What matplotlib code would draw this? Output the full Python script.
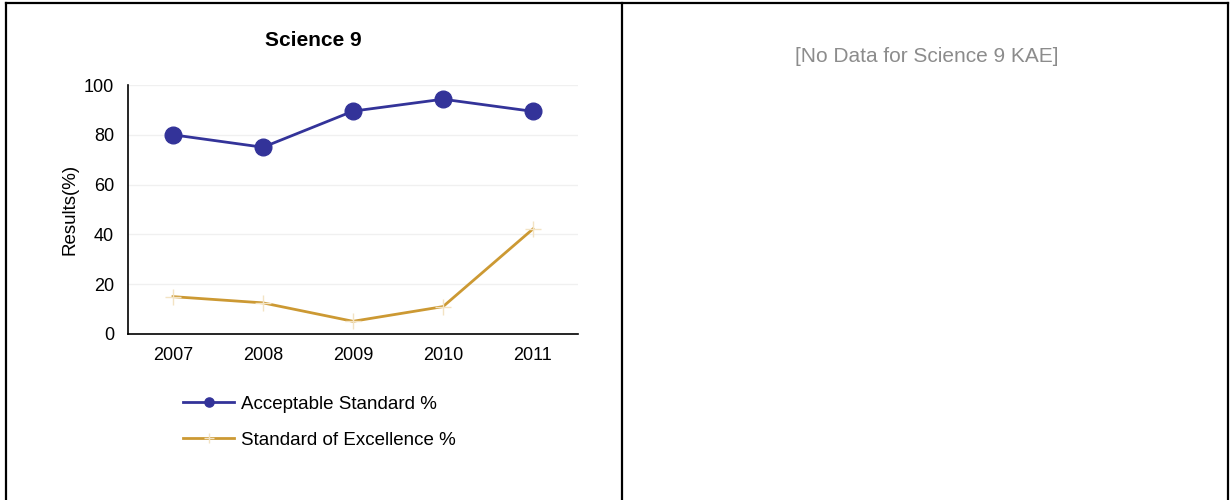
import matplotlib.pyplot as plt
from matplotlib.lines import Line2D

plt.rcParams['font.family'] = ['Liberation Sans', 'DejaVu Sans']

# Data
years = ['2007', '2008', '2009', '2010', '2011']
acceptable = [80.0, 75.0, 89.5, 94.3, 89.4]
excellence = [15.0, 12.5, 5.1, 11.0, 42.2]

W, H = 1230, 500
fig = plt.figure(figsize=(W / 100, H / 100), dpi=100)

# Axes placed in pixel coordinates
left, right, top, bottom = 128, 578, 85, 334
ax = fig.add_axes([left / W, 1 - bottom / H, (right - left) / W, (bottom - top) / H])

x = list(range(len(years)))
blue = '#333399'
gold = '#CC9933'
ax.plot(x, acceptable, color=blue, lw=2, marker='o', ms=12, label='Acceptable Standard %')
ax.plot(x, excellence, color=gold, lw=2, marker='+', ms=12, mec='#f3e3c3', mew=1,
        label='Standard of Excellence %')

ax.set_xlim(-0.5, len(years) - 0.5)
ax.set_ylim(0, 100)
ax.set_yticks([0, 20, 40, 60, 80, 100])
ax.set_xticks(x)
ax.set_xticklabels(years)
ax.tick_params(length=0, labelsize=13, pad=9)
ax.tick_params(axis='y', pad=10)
for s in ['top', 'right']:
    ax.spines[s].set_visible(False)
for s in ['left', 'bottom']:
    ax.spines[s].set_linewidth(1.2)
ax.grid(axis='y', color='#f0f0f0', lw=1)
ax.set_axisbelow(True)
ax.set_ylabel('Results(%)', fontsize=13.5, labelpad=4)

fig.text(313 / W, 1 - 41 / H, 'Science 9', fontsize=15, fontweight='bold',
         ha='center', va='center')

leg = ax.legend(loc='upper left', bbox_to_anchor=(166 / W, 1 - 379 / H),
                bbox_transform=fig.transFigure, frameon=False, fontsize=13.5,
                handlelength=2.75, labelspacing=1.0, handletextpad=0.33,
                markerscale=0.55)

fig.text(927 / W, 1 - 57 / H, '[No Data for Science 9 KAE]', fontsize=15,
         color='#8c8c8c', ha='center', va='center')

# Table frame
for xs, ys in [([6, 1228], [3, 3]), ([6, 6], [3, 500]), ([622, 622], [3, 500]),
               ([1228, 1228], [3, 500])]:
    fig.add_artist(Line2D([v / W for v in xs], [1 - v / H for v in ys],
                          color='black', lw=1.6, transform=fig.transFigure))

fig.savefig('out.png', dpi=100)
